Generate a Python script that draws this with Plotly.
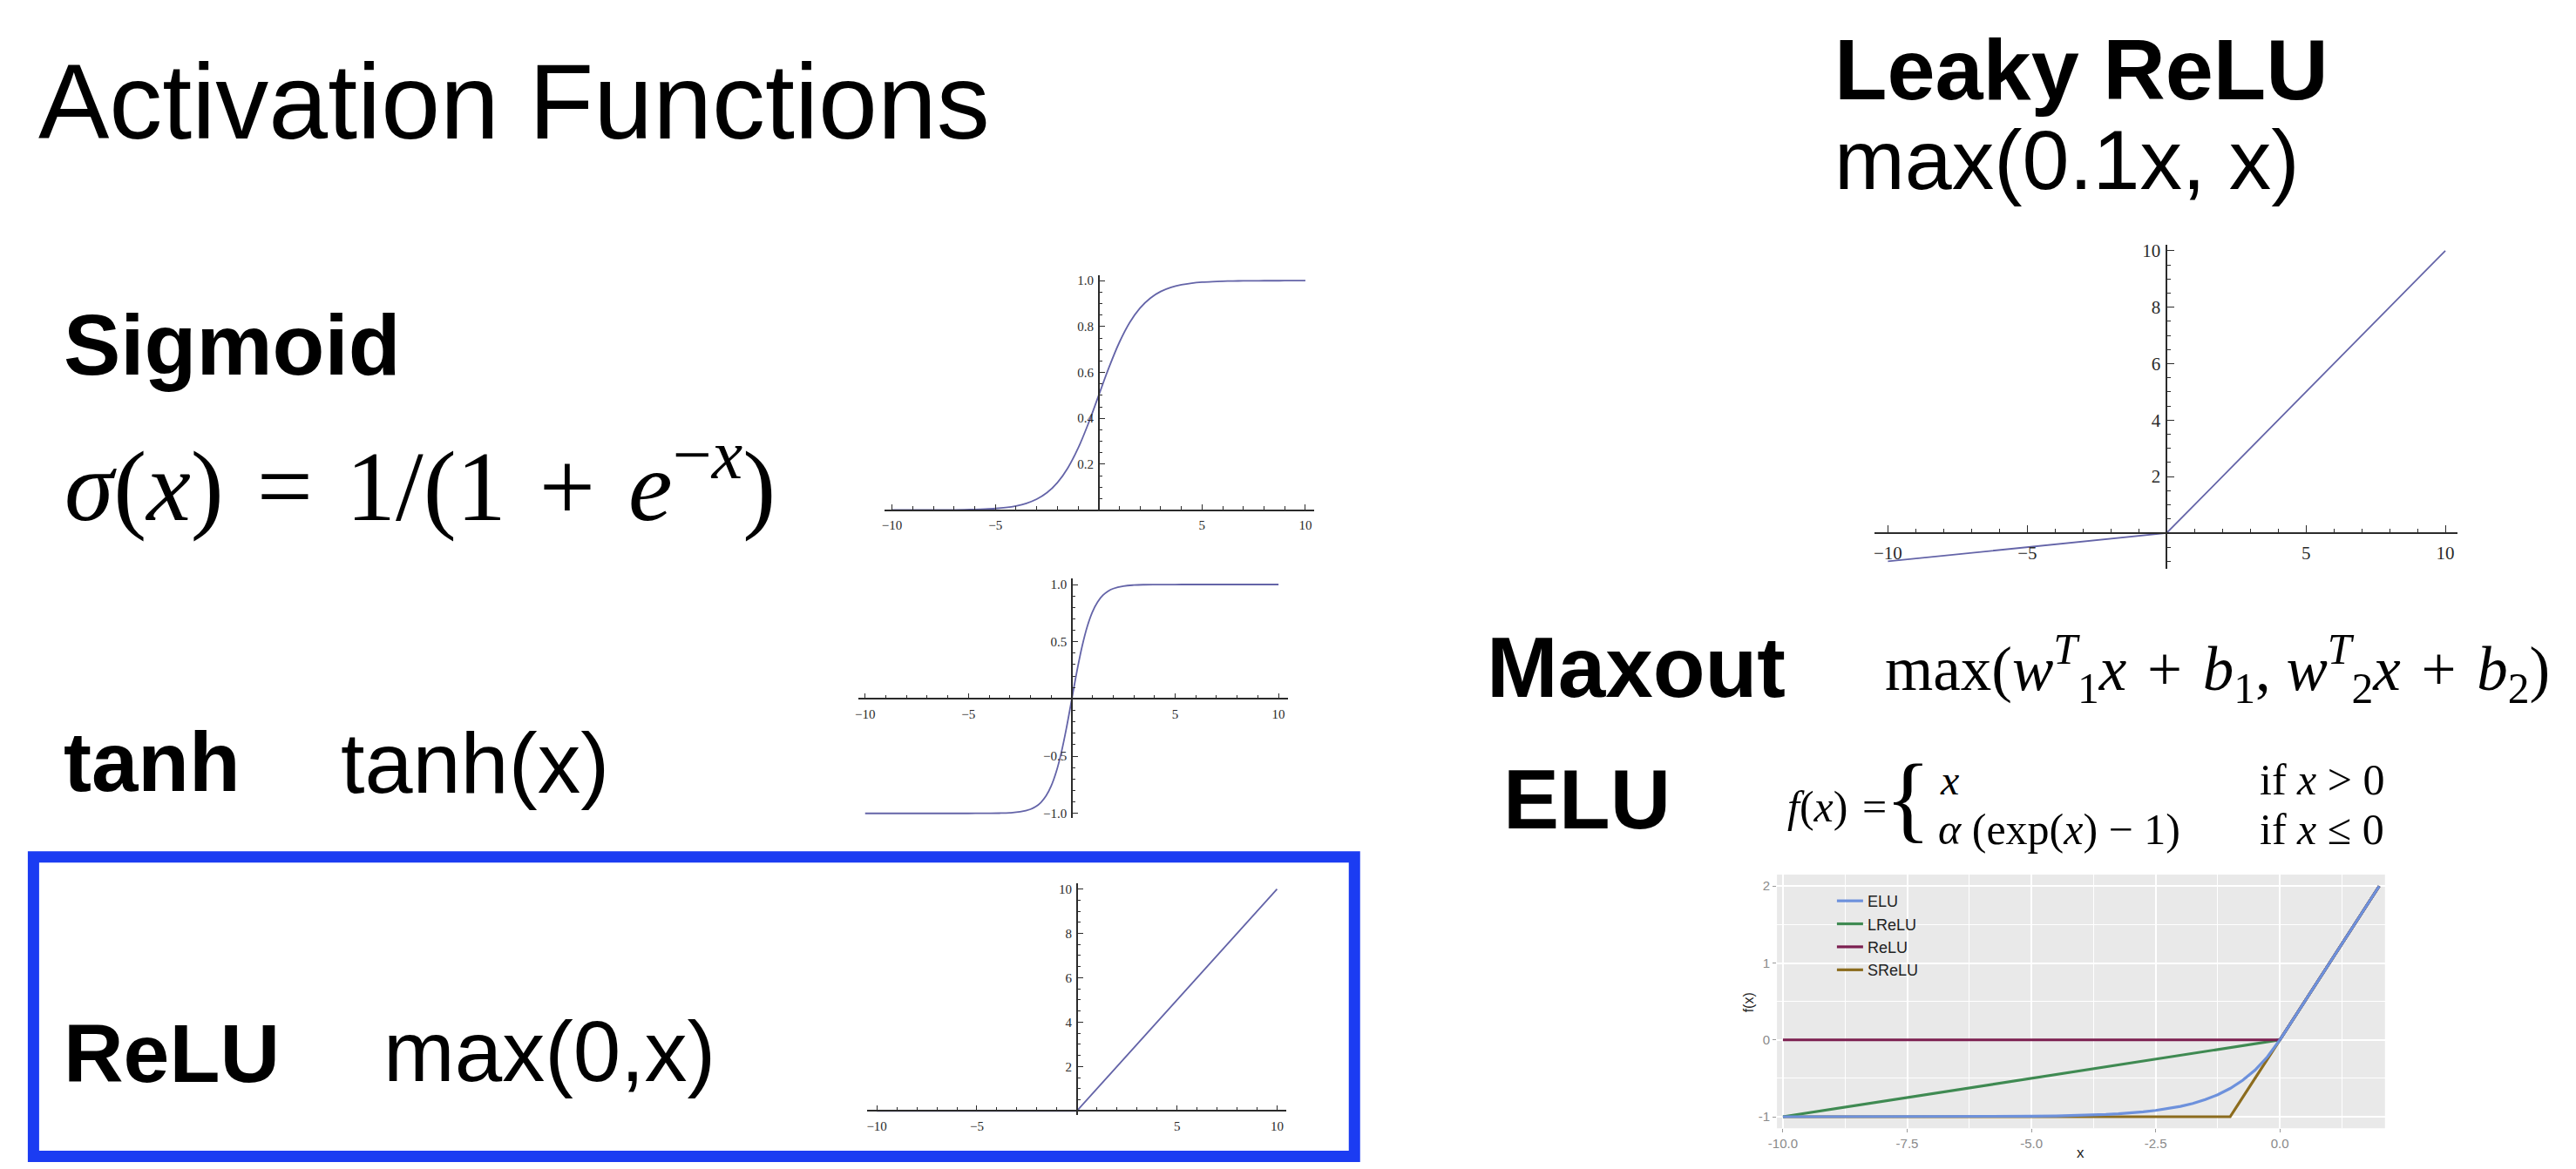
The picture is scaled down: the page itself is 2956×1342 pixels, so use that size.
import plotly.graph_objects as go

W, H = 2956, 1342

# ---------------- data ----------------
sig_x = [-10, -9.5, -9, -8.5, -8, -7.5, -7, -6.5, -6, -5.5, -5, -4.5, -4, -3.5, -3, -2.5, -2, -1.5, -1, -0.5,
         0, 0.5, 1, 1.5, 2, 2.5, 3, 3.5, 4, 4.5, 5, 5.5, 6, 6.5, 7, 7.5, 8, 8.5, 9, 9.5, 10]
sig_y = [0.0000, 0.0001, 0.0001, 0.0002, 0.0003, 0.0006, 0.0009, 0.0015, 0.0025, 0.0041, 0.0067, 0.0110,
         0.0180, 0.0293, 0.0474, 0.0759, 0.1192, 0.1824, 0.2689, 0.3775, 0.5000, 0.6225, 0.7311, 0.8176,
         0.8808, 0.9241, 0.9526, 0.9707, 0.9820, 0.9890, 0.9933, 0.9959, 0.9975, 0.9985, 0.9991, 0.9994,
         0.9997, 0.9998, 0.9999, 0.9999, 1.0000]

tanh_x = [-10, -8, -6, -5, -4, -3.5, -3, -2.5, -2, -1.75, -1.5, -1.25, -1, -0.75, -0.5, -0.25, 0,
          0.25, 0.5, 0.75, 1, 1.25, 1.5, 1.75, 2, 2.5, 3, 3.5, 4, 5, 6, 8, 10]
tanh_y = [-1.0, -1.0, -1.0, -0.9999, -0.9993, -0.9982, -0.9951, -0.9866, -0.9640, -0.9414, -0.9051,
          -0.8483, -0.7616, -0.6351, -0.4621, -0.2449, 0.0, 0.2449, 0.4621, 0.6351, 0.7616, 0.8483,
          0.9051, 0.9414, 0.9640, 0.9866, 0.9951, 0.9982, 0.9993, 0.9999, 1.0, 1.0, 1.0]

relu_x = [-10, 0, 10]
relu_y = [0, 0, 10]

leaky_x = [-10, 0, 10]
leaky_y = [-1, 0, 10]

elu_x = [-10, -8, -6, -5, -4.5, -4, -3.75, -3.5, -3.25, -3, -2.75, -2.5, -2.25, -2, -1.75, -1.5,
         -1.25, -1, -0.75, -0.5, -0.25, 0, 2]
elu_y = [-1.0, -0.9997, -0.9975, -0.9933, -0.9889, -0.9817, -0.9765, -0.9698, -0.9612, -0.9502,
         -0.9361, -0.9179, -0.8946, -0.8647, -0.8262, -0.7769, -0.7135, -0.6321, -0.5276, -0.3935,
         -0.2212, 0.0, 2.0]
lrelu_x = [-10, 0, 2]
lrelu_y = [-1, 0, 2]
relu2_x = [-10, 0, 2]
relu2_y = [0, 0, 2]
srelu_x = [-10, -1, 0, 2]
srelu_y = [-1, -1, 0, 2]

elu_names = ["ELU", "LReLU", "ReLU", "SReLU"]

math_xticks = [-10, -5, 5, 10]
math_xticktext = ["\u221210", "\u22125", "5", "10"]
sig_yticks = [0.2, 0.4, 0.6, 0.8, 1.0]
sig_yticktext = ["0.2", "0.4", "0.6", "0.8", "1.0"]
tanh_yticks = [-1.0, -0.5, 0.5, 1.0]
tanh_yticktext = ["\u22121.0", "\u22120.5", "0.5", "1.0"]
lin_yticks = [2, 4, 6, 8, 10]
lin_yticktext = ["2", "4", "6", "8", "10"]
elu_xticks = [-10, -7.5, -5, -2.5, 0]
elu_xticktext = ["-10.0", "-7.5", "-5.0", "-2.5", "0.0"]
elu_yticks = [-1, 0, 1, 2]
elu_yticktext = ["-1", "0", "1", "2"]

# ---------------- styling ----------------
MATH_LINE = "#6464a8"
AXIS_C = "#2b2b2b"
ELU_COLORS = {"ELU": "#6d91dc", "LReLU": "#3f8a52", "ReLU": "#7c1f50", "SReLU": "#8c6c1e"}

fig = go.Figure()


def axkey(kind, n):
    return kind + ("" if n == 1 else str(n))


def math_panel(n, xdom_px, ydom_px, xr, yr, ytv, ytt, yminor, fsize, majlen, minlen):
    xd = [xdom_px[0] / W, xdom_px[1] / W]
    yd = [1 - ydom_px[1] / H, 1 - ydom_px[0] / H]
    y_zero = yd[0] + (0 - yr[0]) / (yr[1] - yr[0]) * (yd[1] - yd[0])
    x_zero = xd[0] + (0 - xr[0]) / (xr[1] - xr[0]) * (xd[1] - xd[0])
    tfont = dict(family="Liberation Serif", size=fsize, color="#2a2a2a")
    fig.layout[axkey("xaxis", n)] = dict(
        domain=xd, range=xr, anchor="free", position=y_zero, showline=True, linecolor=AXIS_C,
        linewidth=1.5, ticks="inside", ticklen=majlen, tickwidth=1.3, tickcolor=AXIS_C,
        tickmode="array", tickvals=math_xticks, ticktext=math_xticktext, tickfont=tfont,
        ticklabelstandoff=4,
        minor=dict(ticks="inside", ticklen=minlen, tickwidth=1.1, tickcolor=AXIS_C, dtick=1, tick0=0,
                   showgrid=False),
        showgrid=False, zeroline=False, fixedrange=True)
    fig.layout[axkey("yaxis", n)] = dict(
        domain=yd, range=yr, anchor="free", position=x_zero, side="left", showline=True,
        linecolor=AXIS_C, linewidth=1.5, ticks="inside", ticklen=majlen, tickwidth=1.3,
        tickcolor=AXIS_C, tickmode="array", tickvals=ytv, ticktext=ytt, tickfont=tfont,
        ticklabelstandoff=2,
        minor=dict(ticks="inside", ticklen=minlen, tickwidth=1.1, tickcolor=AXIS_C, dtick=yminor,
                   tick0=0, showgrid=False),
        showgrid=False, zeroline=False, fixedrange=True)


# Sigmoid (1), tanh (2), ReLU (3), Leaky ReLU (4)
math_panel(1, (1008, 1503), (313, 584), [-10.38, 10.42], [0.0, 1.023], sig_yticks, sig_yticktext, 0.05, 15, 6, 3.5)
math_panel(2, (978, 1473), (663, 940), [-10.34, 10.46], [-1.043, 1.053], tanh_yticks, tanh_yticktext, 0.1, 15, 6, 3.5)
math_panel(3, (988, 1471), (1015, 1283), [-10.5, 10.46], [-0.2, 10.26], lin_yticks, lin_yticktext, 0.5, 15, 6, 3.5)
math_panel(4, (2148, 2820), (278, 652), [-10.49, 10.45], [-1.27, 10.2], lin_yticks, lin_yticktext, 0.5, 21, 8, 4.5)

for n, xs, ys, shape in [(1, sig_x, sig_y, "spline"), (2, tanh_x, tanh_y, "spline"),
                         (3, relu_x, relu_y, "linear"), (4, leaky_x, leaky_y, "linear")]:
    fig.add_trace(go.Scatter(x=xs, y=ys, mode="lines", xaxis=axkey("x", n), yaxis=axkey("y", n),
                             line=dict(color=MATH_LINE, width=1.8, shape=shape), showlegend=False,
                             hoverinfo="skip"))

# ELU panel (5) - ggplot style
exd = [2036 / W, 2736 / W]
eyd = [1 - 1298 / H, 1 - 1005 / H]
efont = dict(family="Liberation Sans", size=15, color="#8a8a8a")
fig.layout["xaxis5"] = dict(
    domain=exd, range=[-10.12, 2.115], anchor="y5", showline=False, ticks="outside", ticklen=4,
    tickwidth=1, tickcolor="#9a9a9a", tickmode="array", tickvals=elu_xticks, ticktext=elu_xticktext,
    tickfont=efont, showgrid=True, gridcolor="white", gridwidth=2,
    minor=dict(tick0=-8.75, dtick=2.5, showgrid=True, gridcolor="white", gridwidth=1, ticks=""),
    zeroline=False, fixedrange=True)
fig.layout["yaxis5"] = dict(
    domain=eyd, range=[-1.15, 2.15], anchor="x5", showline=False, ticks="outside", ticklen=4,
    tickwidth=1, tickcolor="#9a9a9a", tickmode="array", tickvals=elu_yticks, ticktext=elu_yticktext,
    tickfont=efont, showgrid=True, gridcolor="white", gridwidth=2,
    minor=dict(tick0=-0.5, dtick=1, showgrid=True, gridcolor="white", gridwidth=1, ticks=""),
    zeroline=False, fixedrange=True)

elu_series = {"ELU": (elu_x, elu_y), "LReLU": (lrelu_x, lrelu_y), "ReLU": (relu2_x, relu2_y),
              "SReLU": (srelu_x, srelu_y)}
draw_order = ["SReLU", "LReLU", "ReLU", "ELU"]
for name in draw_order:
    xs, ys = elu_series[name]
    fig.add_trace(go.Scatter(x=xs, y=ys, mode="lines", name=name, xaxis="x5", yaxis="y5",
                             line=dict(color=ELU_COLORS[name], width=3.2),
                             legendrank=elu_names.index(name) + 1, hoverinfo="skip"))

shapes = [
    dict(type="rect", xref="x5 domain", yref="y5 domain", x0=0, x1=1, y0=0, y1=1,
         fillcolor="#e9e9e9", line=dict(width=0), layer="below"),
    dict(type="rect", xref="paper", yref="paper", x0=28.5 / W, x1=1549.5 / W, y0=1 - 1330.5 / H,
         y1=1 - 984.5 / H, line=dict(color="#1b3cf2", width=13), fillcolor="rgba(0,0,0,0)"),
]


def txt(s, x, baseline, size, family="Liberation Sans", color="black", xanchor="left", angle=0,
        yanchor="middle"):
    return dict(text=s, x=x / W, y=1 - (baseline - 0.35 * size) / H, xref="paper", yref="paper",
                xanchor=xanchor, yanchor=yanchor, showarrow=False, textangle=angle,
                font=dict(family=family, size=size, color=color))


SERIF = "Liberation Serif"
S4 = "\u2004"
annotations = [
    txt("Activation Functions", 32, 155, 122),
    txt("<b>Sigmoid</b>", 61, 428, 98),
    txt("<i>\u03c3</i>(<i>x</i>)" + S4 + "=" + S4 + "1/(1" + S4 + "+" + S4 + "<i>e</i><sup>\u2212<i>x</i></sup>)",
        62, 588, 114, family=SERIF),
    txt("<b>tanh</b>", 61, 908, 96),
    txt("tanh(x)", 380, 910, 99),
    txt("<b>ReLU</b>", 61, 1244, 95),
    txt("max(0,x)", 429, 1244, 98),
    txt("<b>Leaky ReLU</b>", 2100, 110, 99),
    txt("max(0.1x, x)", 2100, 214, 97),
    txt("<b>Maxout</b>", 1700, 800, 98),
    txt("max(<i>w</i><sup><i>T</i></sup><sub>1</sub><i>x</i>" + S4 + "+" + S4 + "<i>b</i><sub>1</sub>, "
        "<i>w</i><sup><i>T</i></sup><sub>2</sub><i>x</i>" + S4 + "+" + S4 + "<i>b</i><sub>2</sub>)",
        2158, 792, 71, family=SERIF),
    txt("<b>ELU</b>", 1719, 952, 96),
    txt("<i>f</i>(<i>x</i>)" + S4 + "=", 2046, 944, 50, family=SERIF),
    txt("{", 2158, 955, 110, family=SERIF),
    txt("<i>x</i>", 2222, 913, 48, family=SERIF),
    txt("if <i>x</i> &gt; 0", 2590, 913, 50, family=SERIF),
    txt("<i>\u03b1</i> (exp(<i>x</i>) \u2212 1)", 2220, 970, 50, family=SERIF),
    txt("if <i>x</i> \u2264 0", 2590, 970, 50, family=SERIF),
    dict(text="x", x=2386 / W, y=1 - 1326 / H, xref="paper", yref="paper", xanchor="center",
         yanchor="middle", showarrow=False, font=dict(family="Liberation Sans", size=17, color="#222")),
    dict(text="f(x)", x=2003 / W, y=1 - 1153 / H, xref="paper", yref="paper", xanchor="center",
         yanchor="middle", showarrow=False, textangle=-90,
         font=dict(family="Liberation Sans", size=16, color="#222")),
]

fig.update_layout(
    width=W, height=H, margin=dict(l=0, r=0, t=0, b=0, pad=0),
    paper_bgcolor="white", plot_bgcolor="rgba(0,0,0,0)",
    shapes=shapes, annotations=annotations,
    showlegend=True,
    legend=dict(x=2100 / W, y=1 - 1017 / H, xanchor="left", yanchor="top", bgcolor="rgba(0,0,0,0)",
                font=dict(family="Liberation Sans", size=18, color="#222"), itemwidth=30,
                tracegroupgap=0, traceorder="normal"),
)

fig.write_html("out.html", config={"displayModeBar": False},
               post_script="document.body.style.margin='0';document.body.style.overflow='hidden';")
